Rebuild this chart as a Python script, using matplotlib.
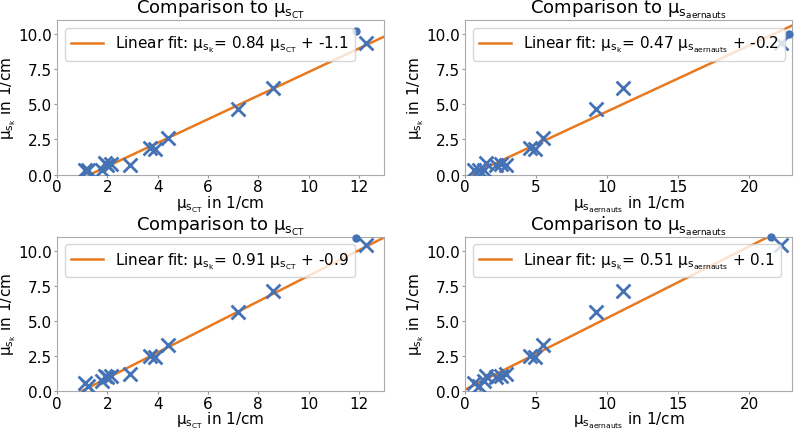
import numpy as np
import matplotlib
matplotlib.use("Agg")
import matplotlib.pyplot as plt

plt.rcParams['mathtext.default'] = 'regular'

# measured attenuation, x axis values
mu_ct = [1.1, 1.25, 1.8, 1.9, 2.0, 2.15, 2.9, 3.7, 3.9, 4.4, 7.2, 8.6, 12.3]
mu_aernauts = [0.6, 1.0, 1.3, 1.5, 2.2, 2.5, 2.9, 4.6, 4.9, 5.5, 9.2, 11.1, 22.2]

# y values, top row / bottom row
mu_sk_top = [0.35, 0.3, 0.3, 0.85, 0.7, 0.75, 0.7, 1.9, 1.8, 2.6, 4.7, 6.2, 9.4]
mu_sk_bottom = [0.55, 0.35, 0.7, 1.1, 1.0, 1.1, 1.2, 2.5, 2.4, 3.3, 5.6, 7.15, 10.4]

# extra single dots
dot_ct_top = (11.9, 10.2)
dot_ae_top = (22.8, 10.0)
dot_ct_bottom = (11.9, 10.9)
dot_ae_bottom = (21.5, 11.0)

# fit parameters (slope, intercept)
fit_ct_top = (0.84, -1.1)
fit_ae_top = (0.47, -0.2)
fit_ct_bottom = (0.91, -0.9)
fit_ae_bottom = (0.51, 0.1)

blue = '#4472b4'
orange = '#e8791f'

fig, axs = plt.subplots(2, 2, figsize=(7.96, 4.31), dpi=100)
fig.subplots_adjust(left=0.0716, right=0.995, top=0.951, bottom=0.0905,
                    wspace=0.248, hspace=0.401)

lab_ct = r'$\mathregular{\mu_{s_{CT}}}$'
lab_ae = r'$\mathregular{\mu_{s_{aernauts}}}$'
lab_k = r'$\mathregular{\mu_{s_k}}$'

panels = [
    (axs[0, 0], mu_ct, mu_sk_top, dot_ct_top, fit_ct_top, lab_ct, 13),
    (axs[0, 1], mu_aernauts, mu_sk_top, dot_ae_top, fit_ae_top, lab_ae, 23),
    (axs[1, 0], mu_ct, mu_sk_bottom, dot_ct_bottom, fit_ct_bottom, lab_ct, 13),
    (axs[1, 1], mu_aernauts, mu_sk_bottom, dot_ae_bottom, fit_ae_bottom, lab_ae, 23),
]

for ax, x, y, dot, fit, lab, xmax in panels:
    xx = np.linspace(0, xmax, 50)
    ax.plot(xx, fit[0] * xx + fit[1], color=orange, lw=1.8,
            label='Linear fit: ' + lab_k + '= %.2f ' % fit[0] + lab + ' + %.1f' % fit[1])
    ax.scatter(x, y, marker='x', s=100, color=blue, linewidths=2, zorder=3)
    ax.scatter([dot[0]], [dot[1]], marker='o', s=25, color=blue, zorder=3, clip_on=False)
    ax.set_xlim(0, xmax)
    ax.set_ylim(0, 11)
    ax.set_yticks([0, 2.5, 5, 7.5, 10])
    ax.set_title('Comparison to ' + lab, fontsize=13, pad=2)
    ax.set_xlabel(lab + ' in 1/cm', fontsize=11, labelpad=-1)
    ax.set_ylabel(lab_k + ' in 1/cm', fontsize=11, labelpad=0)
    ax.tick_params(labelsize=11, length=2, color='#999999', pad=1.5)
    for sp in ax.spines.values():
        sp.set_color('#aaaaaa')
    leg = ax.legend(loc='upper left', fontsize=11, handlelength=2.1, borderaxespad=0.5)
    leg.set_zorder(5)

plt.savefig('out.png', dpi=100)
